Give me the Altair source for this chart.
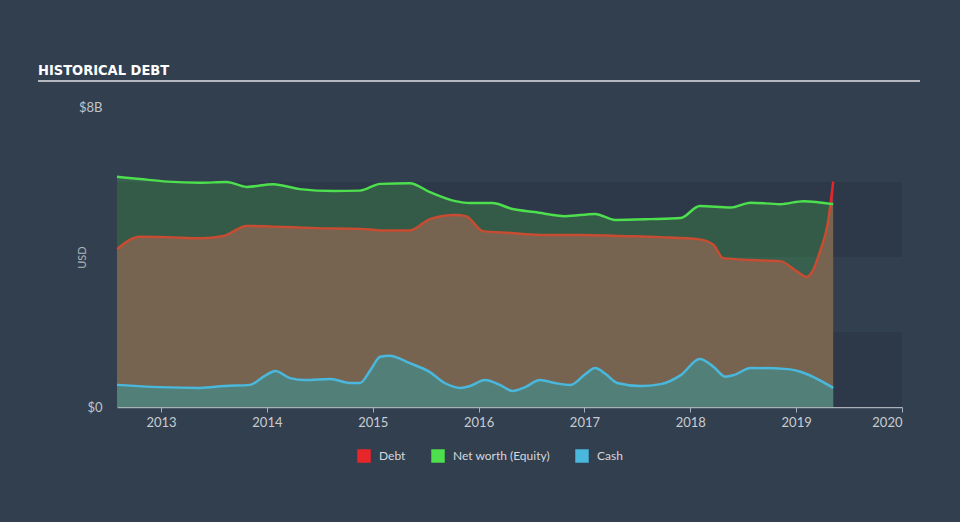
import altair as alt
import pandas as pd

# ---- data (years as decimal, values in $B) ----
nw_year = [2012.584, 2012.80, 2013.06, 2013.37, 2013.62, 2013.81, 2014.06, 2014.31, 2014.63,
           2014.88, 2015.07, 2015.35, 2015.54, 2015.78, 2015.92, 2016.13, 2016.32, 2016.53,
           2016.82, 2017.10, 2017.29, 2017.62, 2017.91, 2018.09, 2018.38, 2018.57, 2018.85,
           2019.07, 2019.35]
nw_value = [6.14, 6.08, 6.01, 5.98, 6.00, 5.87, 5.94, 5.81, 5.76,
            5.77, 5.95, 5.97, 5.73, 5.49, 5.44, 5.44, 5.28, 5.20,
            5.09, 5.15, 4.99, 5.01, 5.04, 5.36, 5.32, 5.45, 5.41,
            5.49, 5.41]

debt_year = [2012.584, 2012.80, 2013.06, 2013.37, 2013.59, 2013.81, 2014.06, 2014.47, 2014.88,
             2015.07, 2015.35, 2015.54, 2015.78, 2015.88, 2016.04, 2016.30, 2016.58, 2016.96,
             2017.34, 2017.72, 2018.09, 2018.22, 2018.31, 2018.57, 2018.85, 2019.01, 2019.10,
             2019.16, 2019.23, 2019.30, 2019.35]
debt_value = [4.21, 4.54, 4.53, 4.50, 4.56, 4.83, 4.81, 4.77, 4.75,
              4.71, 4.71, 5.01, 5.12, 5.09, 4.69, 4.64, 4.59, 4.59,
              4.56, 4.53, 4.47, 4.32, 3.97, 3.92, 3.89, 3.61, 3.47,
              3.65, 4.19, 4.91, 6.01]

cash_year = [2012.584, 2012.99, 2013.37, 2013.60, 2013.84, 2013.98, 2014.08, 2014.22, 2014.36,
             2014.60, 2014.79, 2014.88, 2014.98, 2015.07, 2015.16, 2015.35, 2015.54, 2015.68,
             2015.83, 2015.92, 2016.06, 2016.20, 2016.32, 2016.44, 2016.58, 2016.72, 2016.87,
             2017.01, 2017.10, 2017.20, 2017.31, 2017.53, 2017.72, 2017.91, 2018.09, 2018.22,
             2018.33, 2018.41, 2018.57, 2018.92, 2019.04, 2019.35]
cash_value = [0.59, 0.53, 0.51, 0.56, 0.59, 0.83, 0.96, 0.77, 0.72,
              0.75, 0.64, 0.64, 0.99, 1.34, 1.37, 1.17, 0.93, 0.64,
              0.51, 0.56, 0.72, 0.59, 0.43, 0.53, 0.72, 0.64, 0.59,
              0.88, 1.04, 0.88, 0.64, 0.56, 0.61, 0.85, 1.28, 1.07,
              0.81, 0.85, 1.04, 1.01, 0.94, 0.51]

series_names = ["Debt", "Net worth (Equity)", "Cash"]
series_colors = ["#e8262a", "#4ddf4d", "#4ab8dd"]
year_ticks = [2013, 2014, 2015, 2016, 2017, 2018, 2019, 2020]
band_lo = [0, 4]
band_hi = [2, 6]
title_text = ["HISTORICAL DEBT"]

BG = "#323f4f"
W, H = 785, 300


def frame(xs, vs, name):
    return pd.DataFrame({"year": xs, "value": vs, "series": name})


df_nw = frame(nw_year, nw_value, series_names[1])
df_debt = frame(debt_year, debt_value, series_names[0])
df_cash = frame(cash_year, cash_value, series_names[2])

x_scale = alt.Scale(domain=[2012.584, 2020], nice=False, zero=False)
y_scale = alt.Scale(domain=[0, 8], nice=False)

x_axis = alt.Axis(values=year_ticks, format="d", grid=False, domainColor="#a9b0b8",
                  tickColor="#a9b0b8", tickSize=5, labelColor="#c9cdd2", labelFont="Lato",
                  labelFontSize=13, labelPadding=4, domainWidth=1.5)
y_axis = alt.Axis(values=[0, 8], grid=False, domain=False, ticks=False,
                  labelExpr="datum.value == 0 ? '$0' : '$' + datum.value + 'B'",
                  labelColor="#c0c5ca", labelFont="Lato", labelFontSize=13, labelPadding=15,
                  title="USD", titleColor="#aeb4ba", titleFont="Lato", titleFontSize=11,
                  titleFontWeight="normal", titleX=-30, titleY=150)

X = alt.X("year:Q", scale=x_scale, axis=x_axis, title=None)
Y = alt.Y("value:Q", scale=y_scale, axis=y_axis)

color_enc = alt.Color(
    "series:N",
    scale=alt.Scale(domain=series_names, range=series_colors),
    sort=series_names,
    legend=alt.Legend(
        title=None, orient="none", direction="horizontal", legendX=240, legendY=342,
        symbolType="square", symbolSize=36, symbolStrokeWidth=7.5, labelColor="#d4d8dc",
        labelFont="Lato", labelFontSize=12, columnPadding=14, labelOffset=8,
    ),
)

bands = alt.Chart(pd.DataFrame({"lo": band_lo, "hi": band_hi})).mark_rect(
    color="#2d3948").encode(y=alt.Y("lo:Q", scale=y_scale, axis=y_axis), y2="hi:Q")

debt_area = alt.Chart(df_debt).mark_area(interpolate="monotone", color="#824352").encode(x=X, y=Y)
cash_area = alt.Chart(df_cash).mark_area(interpolate="monotone", color="#566686").encode(x=X, y=Y)
debt_line = alt.Chart(df_debt).mark_line(interpolate="monotone", strokeWidth=2.5).encode(
    x=X, y=Y, color=color_enc)
nw_area = alt.Chart(df_nw).mark_area(interpolate="monotone", color="#4ddf4d", opacity=0.21).encode(
    x=X, y=Y)
cash_line = alt.Chart(df_cash).mark_line(interpolate="monotone", strokeWidth=2.5).encode(
    x=X, y=Y, color=color_enc)
nw_line = alt.Chart(df_nw).mark_line(interpolate="monotone", strokeWidth=2.5).encode(
    x=X, y=Y, color=color_enc)

title = alt.Chart(pd.DataFrame({"t": title_text})).mark_text(
    align="left", baseline="alphabetic", font="DejaVu Sans Condensed, Liberation Sans, sans-serif",
    fontWeight="bold", fontSize=14.5, color="#ffffff").encode(
    x=alt.value(-79), y=alt.value(-32), text="t:N")

title_rule = alt.Chart(pd.DataFrame({"t": title_text})).mark_rule(
    color="#b5b9bf", strokeWidth=2).encode(x=alt.value(-79), x2=alt.value(803), y=alt.value(-26))

chart = alt.layer(
    bands, debt_area, cash_area, debt_line, nw_area, cash_line, nw_line, title, title_rule
).properties(
    width=W, height=H, background=BG,
    autosize=alt.AutoSizeParams(type="none"),
    padding={"left": 117, "top": 107, "right": 58, "bottom": 115},
).configure_view(stroke=None)

chart.save("out.html", embed_options={"renderer": "svg", "actions": False})
